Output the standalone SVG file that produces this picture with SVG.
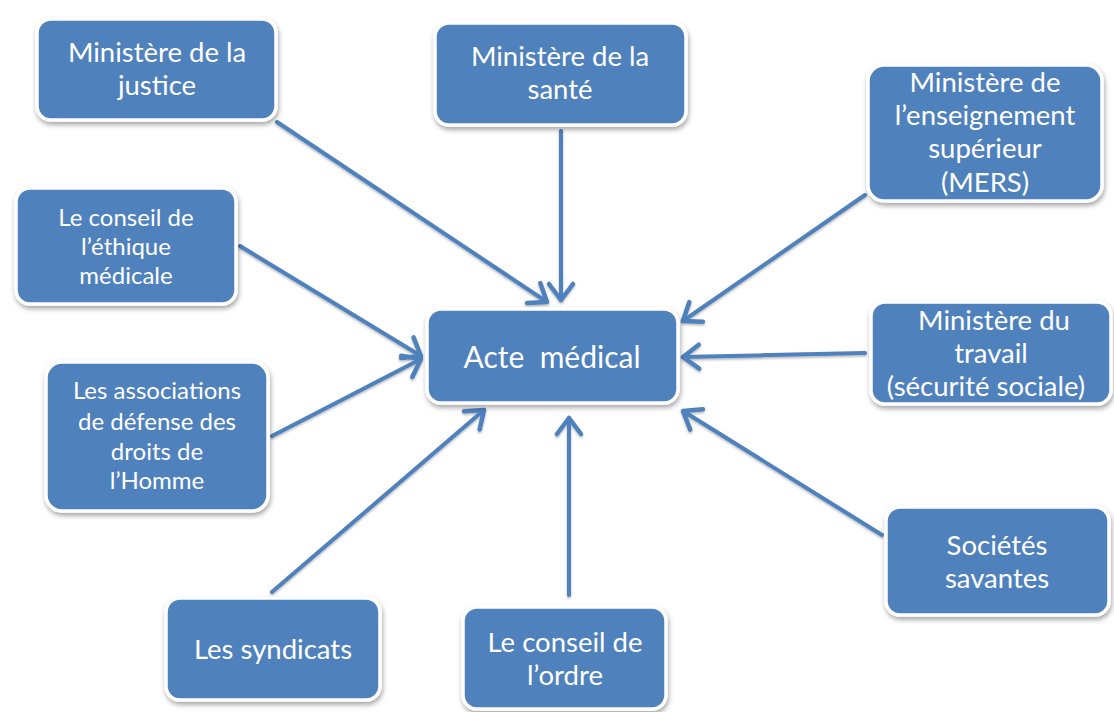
<svg xmlns="http://www.w3.org/2000/svg" width="1114" height="712" viewBox="0 0 1114 712">
<defs>
<filter id="sh" x="-10%" y="-10%" width="125%" height="130%">
<feDropShadow dx="1" dy="3" stdDeviation="2.5" flood-color="#000" flood-opacity="0.35"/>
</filter>
<marker id="ah" markerUnits="userSpaceOnUse" markerWidth="40" markerHeight="40" refX="20" refY="20" orient="auto" overflow="visible">
<path d="M4,8 L20,20 L4,32" fill="none" stroke="#4F81BD" stroke-width="4.5" stroke-linecap="round" stroke-linejoin="round"/>
</marker>
<filter id="lsh" x="-10%" y="-10%" width="120%" height="120%">
<feDropShadow dx="0" dy="1.5" stdDeviation="1" flood-color="#000" flood-opacity="0.3"/>
</filter>
</defs>
<style>
.box{fill:#4F81BD;stroke:#fff;stroke-width:3.5;filter:url(#sh)}
.t{font-family:Lato,"Open Sans",sans-serif;fill:#fff;text-anchor:middle}
.c{stroke:#4F81BD;stroke-width:4;fill:none;marker-end:url(#ah);stroke-linecap:round}
</style>
<g id="connectors" filter="url(#lsh)">
<line class="c" x1="277" y1="122" x2="547" y2="302"/>
<line class="c" x1="561" y1="131" x2="561" y2="300"/>
<line class="c" x1="865" y1="195" x2="683" y2="321"/>
<line class="c" x1="240" y1="246" x2="421" y2="356"/>
<line class="c" x1="272" y1="436" x2="421" y2="359"/>
<line class="c" x1="865" y1="353" x2="683" y2="357"/>
<line class="c" x1="272" y1="592" x2="484" y2="410"/>
<line class="c" x1="569" y1="595" x2="569" y2="418"/>
<line class="c" x1="882" y1="535" x2="683" y2="411"/>
</g>
<g id="justice">
<rect class="box" x="37" y="19" width="239" height="101" rx="14"/>
<text class="t" font-size="27.5"><tspan x="157" y="62">Ministère de la</tspan><tspan x="157" y="95">justice</tspan></text>
</g>
<g id="sante">
<rect class="box" x="435" y="23" width="251" height="102" rx="14"/>
<text class="t" font-size="27.5"><tspan x="560" y="66">Ministère de la</tspan><tspan x="560" y="99">santé</tspan></text>
</g>
<g id="mers">
<rect class="box" x="868" y="65" width="234" height="136" rx="16"/>
<text class="t" font-size="27.5"><tspan x="985" y="92">Ministère de</tspan><tspan x="985" y="125">l’enseignement</tspan><tspan x="985" y="158">supérieur</tspan><tspan x="985" y="192">(MERS)</tspan></text>
</g>
<g id="ethique">
<rect class="box" x="16" y="188" width="220" height="116" rx="14"/>
<text class="t" font-size="24"><tspan x="126" y="226">Le conseil de</tspan><tspan x="126" y="255">l’éthique</tspan><tspan x="126" y="284">médicale</tspan></text>
</g>
<g id="acte">
<rect class="box" x="427" y="309" width="251" height="94" rx="14"/>
<text class="t" font-size="30" x="552" y="368" xml:space="preserve">Acte  médical</text>
</g>
<g id="travail">
<rect class="box" x="871" y="302" width="240" height="102" rx="14"/>
<text class="t" font-size="27.5"><tspan x="994" y="330">Ministère du</tspan><tspan x="991" y="363">travail</tspan><tspan x="986" y="396">(sécurité sociale)</tspan></text>
</g>
<g id="associations">
<rect class="box" x="46" y="362" width="222" height="149" rx="16"/>
<text class="t" font-size="24"><tspan x="157" y="399">Les associations</tspan><tspan x="157" y="430">de défense des</tspan><tspan x="157" y="460">droits de</tspan><tspan x="157" y="489">l’Homme</tspan></text>
</g>
<g id="societes">
<rect class="box" x="886" y="507" width="223" height="108" rx="14"/>
<text class="t" font-size="27.5"><tspan x="997" y="555">Sociétés</tspan><tspan x="997" y="588">savantes</tspan></text>
</g>
<g id="syndicats">
<rect class="box" x="166" y="598" width="214" height="102" rx="14"/>
<text class="t" font-size="27.5" x="273" y="659">Les syndicats</text>
</g>
<g id="ordre">
<rect class="box" x="463" y="607" width="203" height="102" rx="14"/>
<text class="t" font-size="27.5"><tspan x="565" y="652">Le conseil de</tspan><tspan x="565" y="685">l’ordre</tspan></text>
</g>
</svg>
